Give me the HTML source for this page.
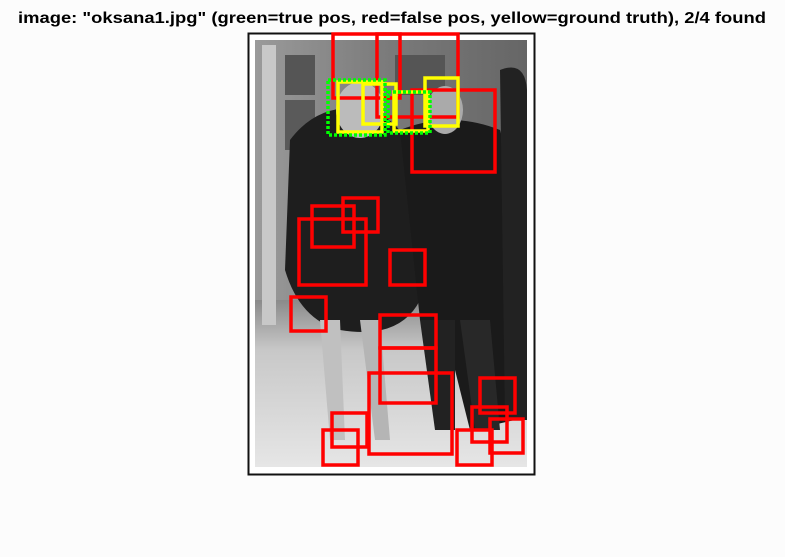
<!DOCTYPE html>
<html><head><meta charset="utf-8"><style>
html,body{margin:0;padding:0;background:#fcfcfc;}
svg{display:block;}
</style></head><body>
<svg width="785" height="557" viewBox="0 0 785 557" xmlns="http://www.w3.org/2000/svg">
<defs>
<linearGradient id="floor" x1="0" y1="0" x2="0" y2="1">
<stop offset="0" stop-color="#8a8a8a"/><stop offset="0.3" stop-color="#c8c8c8"/><stop offset="1" stop-color="#e6e6e6"/>
</linearGradient>
<linearGradient id="wall" x1="0" y1="0" x2="1" y2="0">
<stop offset="0" stop-color="#9a9a9a"/><stop offset="0.5" stop-color="#7a7a7a"/><stop offset="1" stop-color="#666"/>
</linearGradient>
</defs>
<text x="392" y="23" text-anchor="middle" font-family="Liberation Sans, sans-serif" font-weight="bold" font-size="16" textLength="748" lengthAdjust="spacingAndGlyphs" fill="#000">image: "oksana1.jpg" (green=true pos, red=false pos, yellow=ground truth), 2/4 found</text>
<g>
<rect x="248.5" y="33.5" width="286" height="441" fill="#fff" stroke="#111" stroke-width="2"/>
<g>
<rect x="255" y="40" width="272" height="427" fill="url(#wall)"/>
<rect x="255" y="300" width="272" height="167" fill="url(#floor)"/>
<rect x="262" y="45" width="14" height="280" fill="#c8c8c8"/>
<rect x="285" y="55" width="30" height="40" fill="#555"/><rect x="285" y="100" width="30" height="50" fill="#5a5a5a"/>
<rect x="395" y="55" width="50" height="40" fill="#555"/>
<path d="M290 140 Q320 100 370 110 Q400 120 410 150 L420 300 Q400 340 340 330 Q300 320 285 270 Z" fill="#1e1e1e"/>
<path d="M400 130 Q450 110 500 130 L520 200 L515 420 L470 430 L445 330 L420 320 Z" fill="#1a1a1a"/>
<path d="M500 70 Q525 60 527 90 L527 420 L505 420 Z" fill="#222"/>
<ellipse cx="360" cy="110" rx="24" ry="28" fill="#bbb"/>
<ellipse cx="445" cy="110" rx="18" ry="24" fill="#aaa"/>
<path d="M320 320 L330 440 L345 440 L340 320 Z" fill="#c0c0c0"/>
<path d="M360 320 L375 440 L390 440 L380 320 Z" fill="#b5b5b5"/>
<path d="M420 320 L435 430 L455 430 L455 320 Z" fill="#222"/>
<path d="M460 320 L475 430 L500 430 L490 320 Z" fill="#282828"/>
</g>
</g>
<g fill="none" stroke-width="3.5">
<g stroke="#ff0000">
<rect x="333" y="34" width="67" height="64"/>
<rect x="377" y="34" width="81" height="83"/>
<rect x="412" y="90" width="83" height="82"/>
<rect x="343" y="198" width="35" height="34"/>
<rect x="312" y="206" width="42" height="41"/>
<rect x="299" y="219" width="67" height="66"/>
<rect x="390" y="250" width="35" height="35"/>
<rect x="291" y="297" width="35" height="34"/>
<rect x="380" y="315" width="56" height="33"/>
<rect x="380" y="348" width="56" height="55"/>
<rect x="369" y="373" width="83" height="81"/>
<rect x="332" y="413" width="35" height="34"/>
<rect x="323" y="430" width="35" height="35"/>
<rect x="480" y="378" width="35" height="35"/>
<rect x="472" y="407" width="35" height="35"/>
<rect x="490" y="419" width="33" height="34"/>
<rect x="457" y="430" width="35" height="35"/>
</g>
<g stroke="#ffff00">
<rect x="338" y="82" width="44" height="50"/>
<rect x="363" y="84" width="33" height="40"/>
<rect x="394" y="92" width="34" height="39"/>
<rect x="425" y="78" width="33" height="48"/>
</g>
<g stroke="#00ff00" stroke-dasharray="3,2">
<rect x="328" y="80" width="57" height="55"/>
<rect x="388" y="92" width="42" height="41"/>
</g>
</g>
</svg>
</body></html>
